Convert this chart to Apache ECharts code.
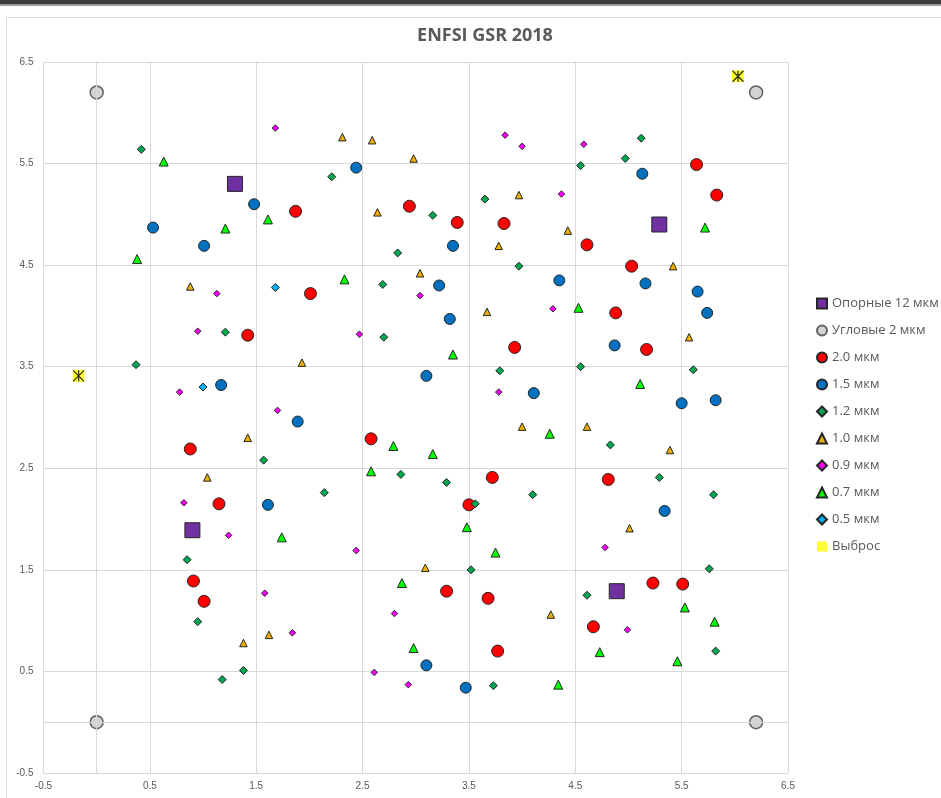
<!DOCTYPE html>
<html>
<head>
<meta charset="utf-8">
<script src="https://cdn.jsdelivr.net/npm/echarts@6/dist/echarts.min.js"></script>
<style>
html,body{margin:0;padding:0;background:#fff;}
#chart{width:941px;height:798px;}
</style>
</head>
<body>
<div id="chart"></div>
<script>
// ---- data (x, y) ----
const seriesNames = ['Опорные 12 мкм','Угловые 2 мкм','2.0 мкм','1.5 мкм','1.2 мкм','1.0 мкм','0.9 мкм','0.7 мкм','0.5 мкм','Выброс'];

const ref12 = [[1.30,5.30],[0.90,1.89],[5.29,4.90],[4.89,1.29]];
const corner2 = [[0,6.2],[0,0],[6.2,6.2],[6.2,0]];
const um20 = [[5.64,5.49],[5.83,5.19],[1.87,5.03],[2.94,5.08],[3.39,4.92],[3.83,4.91],[4.61,4.70],[5.03,4.49],[2.01,4.22],[4.88,4.03],[1.42,3.81],[3.93,3.69],[5.17,3.67],[0.88,2.69],[2.58,2.79],[3.72,2.41],[4.81,2.39],[1.15,2.15],[3.50,2.14],[0.91,1.39],[1.01,1.19],[3.29,1.29],[3.68,1.22],[5.23,1.37],[5.51,1.36],[4.67,0.94],[3.77,0.70]];
const um15 = [[2.44,5.46],[5.13,5.40],[1.48,5.10],[0.53,4.87],[1.01,4.69],[3.35,4.69],[3.22,4.30],[4.35,4.35],[5.16,4.32],[5.65,4.24],[5.74,4.03],[3.32,3.97],[4.87,3.71],[3.10,3.41],[1.17,3.32],[4.11,3.24],[5.50,3.14],[5.82,3.17],[1.89,2.96],[1.61,2.14],[5.34,2.08],[3.10,0.56],[3.47,0.34]];
const um12 = [[0.42,5.64],[2.21,5.37],[5.12,5.75],[4.97,5.55],[4.55,5.48],[3.65,5.15],[3.16,4.99],[2.83,4.62],[3.97,4.49],[2.69,4.31],[2.70,3.79],[1.21,3.84],[0.37,3.52],[3.79,3.46],[4.55,3.50],[5.61,3.47],[4.83,2.73],[1.57,2.58],[2.86,2.44],[3.29,2.36],[5.29,2.41],[2.14,2.26],[4.10,2.24],[3.56,2.15],[5.80,2.24],[0.85,1.60],[3.52,1.50],[5.76,1.51],[4.61,1.25],[0.95,0.99],[1.38,0.51],[1.18,0.42],[3.73,0.36],[5.82,0.70]];
const um10 = [[2.31,5.76],[2.59,5.73],[2.98,5.55],[3.97,5.19],[2.64,5.02],[4.43,4.84],[3.78,4.69],[3.04,4.42],[5.42,4.49],[0.88,4.29],[3.67,4.04],[5.57,3.79],[1.93,3.54],[4.00,2.91],[4.61,2.91],[1.42,2.80],[5.39,2.68],[1.04,2.41],[5.01,1.91],[3.09,1.52],[4.27,1.06],[1.38,0.78],[1.62,0.86]];
const um09 = [[1.68,5.85],[3.84,5.78],[4.00,5.67],[4.58,5.69],[4.37,5.20],[1.13,4.22],[3.04,4.20],[4.29,4.07],[2.47,3.82],[0.95,3.85],[0.78,3.25],[1.70,3.07],[3.78,3.25],[0.82,2.16],[1.24,1.84],[2.44,1.69],[4.78,1.72],[1.58,1.27],[2.80,1.07],[1.84,0.88],[4.99,0.91],[2.61,0.49],[2.93,0.37]];
const um07 = [[0.63,5.52],[1.61,4.95],[1.21,4.86],[0.38,4.56],[2.33,4.36],[5.72,4.87],[4.53,4.08],[3.35,3.62],[5.11,3.33],[2.79,2.72],[3.16,2.64],[4.26,2.84],[2.58,2.47],[1.74,1.82],[3.48,1.92],[3.75,1.67],[2.87,1.37],[5.53,1.13],[5.81,0.99],[2.98,0.73],[4.73,0.69],[5.46,0.60],[4.34,0.37]];
const um05 = [[1.68,4.28],[1.00,3.30]];
const outlier = [[-0.17,3.41],[6.03,6.36]];

const xTicks = {min:-0.5, max:6.5, step:1};
const yTicks = {min:-0.5, max:6.5, step:1};

const EDGE = '#262626';
function sc(name, data, symbol, size, color, extra){
  return Object.assign({
    name: name, type:'scatter', data: data, symbol: symbol, symbolSize: size,
    itemStyle:{color: color, borderColor: EDGE, borderWidth: 1, opacity: 1},
    emphasis:{disabled:true}
  }, extra || {});
}

const chart = echarts.init(document.getElementById('chart'), null, {renderer:'canvas'});
const axisLabelStyle = {color:'#595959', fontSize:10, fontFamily:'Liberation Sans'};
const option = {
  backgroundColor:'#ffffff',
  animation:false,
  title:{
    text:'ENFSI GSR 2018', left:480, top:22, textAlign:'center',
    textStyle:{color:'#595959', fontSize:18, fontWeight:'bold', fontFamily:'Open Sans'}
  },
  graphic:[
    {type:'rect', shape:{x:0,y:0,width:941,height:4}, style:{fill:'#3c3c3c'}, silent:true},
    {type:'rect', shape:{x:0,y:4,width:941,height:2}, style:{fill:'#9a9a9a'}, silent:true},
    {type:'rect', shape:{x:6.5,y:17.5,width:1000,height:1000}, style:{fill:'none', stroke:'#d9d9d9', lineWidth:1}, silent:true}
  ],
  legend:{
    orient:'vertical', left:816, top:297, padding:0,
    itemWidth:10, itemHeight:10, itemGap:14,
    data: seriesNames,
    textStyle:{color:'#595959', fontSize:13, fontFamily:'Open Sans'},
    selectedMode:false
  },
  grid:{left:43.5, right:153, top:62, bottom:25, containLabel:false},
  xAxis:{
    type:'value', min:xTicks.min, max:xTicks.max, interval:xTicks.step,
    axisLine:{show:false}, axisTick:{show:false},
    axisLabel:{...axisLabelStyle, margin:8},
    splitLine:{show:true, lineStyle:{color:'#d9d9d9', width:1}}
  },
  yAxis:{
    type:'value', min:yTicks.min, max:yTicks.max, interval:yTicks.step,
    axisLine:{show:false}, axisTick:{show:false},
    axisLabel:{...axisLabelStyle, margin:10},
    splitLine:{show:true, lineStyle:{color:'#d9d9d9', width:1}}
  },
  series:[
    sc(seriesNames[0], ref12, 'rect', 15, '#7030A0'),
    sc(seriesNames[1], corner2, 'circle', 13, '#C8C8C8', {
      itemStyle:{color:'#C8C8C8', borderColor:'#404040', borderWidth:1.5},
      markLine:{silent:true, symbol:'none', label:{show:false},
        lineStyle:{color:'#d9d9d9', width:1, type:'solid'},
        data:[{xAxis:0},{yAxis:0}]}
    }),
    sc(seriesNames[2], um20, 'circle', 12, '#FF0000'),
    sc(seriesNames[3], um15, 'circle', 11, '#0070C0'),
    sc(seriesNames[4], um12, 'diamond', 8, '#00A550'),
    sc(seriesNames[5], um10, 'triangle', 7.5, '#EDB000'),
    sc(seriesNames[6], um09, 'diamond', 6.5, '#FF00FF'),
    sc(seriesNames[7], um07, 'triangle', 9, '#00FF00'),
    sc(seriesNames[8], um05, 'diamond', 8, '#00B0F0'),
    sc(seriesNames[9], outlier, 'rect', 12, '#FFFF00', {itemStyle:{color:'#FFFF00', borderWidth:0}}),
    {name:seriesNames[9], type:'scatter', data: outlier,
      symbol:'path://M0,0L10,10M10,0L0,10M5,0L5,10', symbolSize:11,
      itemStyle:{color:'rgba(0,0,0,0)', borderColor:'#000', borderWidth:1.3},
      emphasis:{disabled:true}}
  ]
};
chart.setOption(option);
</script>
</body>
</html>
